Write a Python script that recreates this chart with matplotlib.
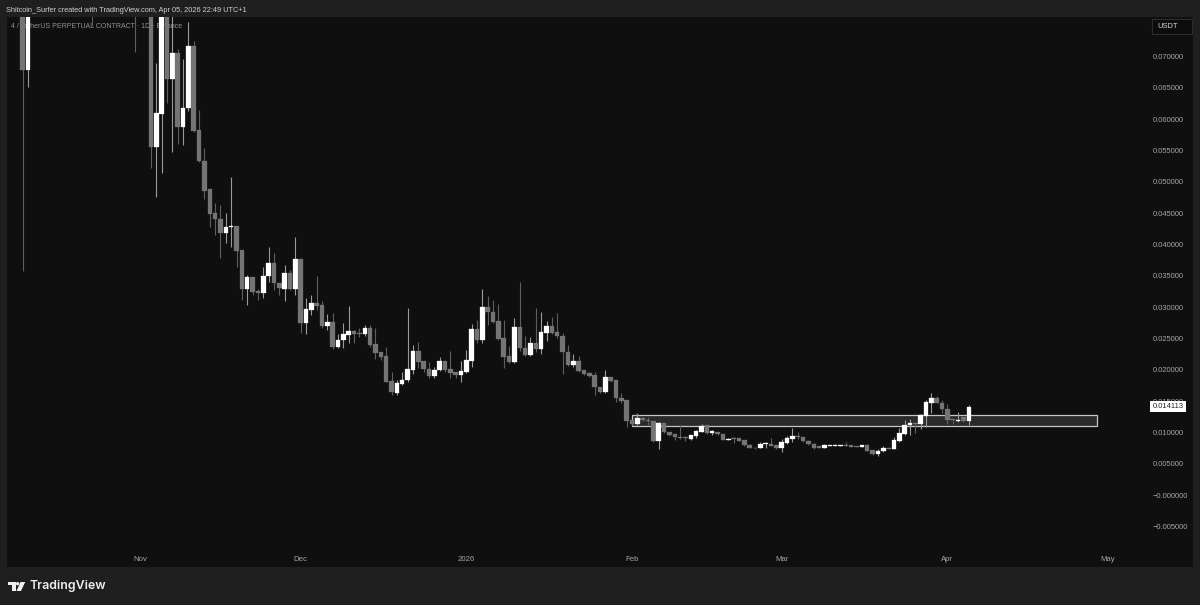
import matplotlib
matplotlib.use("Agg")
import matplotlib.pyplot as plt
import matplotlib.dates as mdates
from matplotlib.patches import Rectangle, Polygon, Circle
from matplotlib.transforms import IdentityTransform
import pandas as pd

# daily candles, 3 Nov 2025 to 5 Apr 2026
opens = [
    .085, .05549, .06081, .088, .06639, .07054, .05873, .06181, .07166, .05825,
    .05335, .04884, .04501, .04405, .04186, .04285, .04293, .03910, .03293, .03479,
    .03256, .03224, .03495, .03703, .03384, .03288, .03538, .03288, .03762, .02750,
    .02953, .03069, .03032, .02697, .02766, .02357, .02474, .02558, .02617, .02581,
    .02570, .02670, .02405, .02277, .02218, .01819, .01633, .01776, .01835, .01995,
    .02298, .02134, .02011, .01899, .01990, .02139, .02016, .01968, .01915, .01958,
    .02139, .02654, .02474, .03000, .02926, .02777, .02506, .02218, .02123, .02686,
    .02341, .02234, .02426, .02335, .02590, .02702, .02597, .02542, .02277, .02075,
    .02139, .01990, .01942, .01910, .01724, .01644, .01878, .01835, .01548, .01516,
    .01197, .01138, .01224, .01197, .01186, .00862, .01144, .01005, .00969, .00930,
    .00930, .00894, .00942, .01010, .01112, .00985, .01005, .00974, .00883, .00905,
    .00910, .00873, .00803, .00755, .00750, .00819, .00814, .00798, .00750, .00835,
    .00894, .00942, .00926, .00867, .00819, .00782, .00755, .00787, .00787, .00787,
    .00793, .00793, .00782, .00766, .00803, .00718, .00654, .00697, .00755, .00739,
    .00862, .00974, .01117, .01144, .01128, .01266, .01473, .01543, .01473, .01368,
    .01208, .01186, .01240, .01186,
]
closes = [
    .05549, .06092, .088, .06639, .07059, .05873, .06181, .07166, .05814, .05331,
    .04857, .04485, .04405, .04182, .04282, .04293, .03899, .03293, .03479, .03245,
    .03224, .03495, .03703, .03384, .03299, .03538, .03288, .03762, .02750, .02964,
    .03069, .03016, .02697, .02766, .02357, .02474, .02565, .02617, .02570, .02565,
    .02670, .02394, .02271, .02207, .01808, .01639, .01783, .01840, .02006, .02298,
    .02118, .02006, .01899, .01995, .02139, .01995, .01952, .01915, .01974, .02155,
    .02654, .02474, .03000, .02916, .02766, .02495, .02207, .02123, .02686, .02341,
    .02234, .02426, .02330, .02601, .02702, .02590, .02538, .02277, .02075, .02139,
    .01979, .01936, .01904, .01719, .01644, .01878, .01824, .01548, .01500, .01186,
    .01133, .01224, .01197, .01181, .00862, .01144, .01001, .00958, .00921, .00910,
    .00905, .00953, .01021, .01106, .00985, .01017, .00974, .00883, .00899, .00894,
    .00862, .00798, .00750, .00745, .00819, .00830, .00787, .00750, .00841, .00905,
    .00942, .00926, .00857, .00814, .00750, .00750, .00803, .00798, .00798, .00798,
    .00782, .00771, .00766, .00798, .00707, .00654, .00702, .00745, .00739, .00873,
    .00985, .01112, .01154, .01128, .01277, .01479, .01543, .01473, .01368, .01197,
    .01192, .01197, .01186, .014113,
]
highs = [
    .090, .06895, .092, .090, .078, .07118, .06959, .07554, .07251, .06145,
    .05538, .04884, .04660, .04628, .04501, .05080, .04293, .03910, .03511, .03479,
    .03290, .03639, .03958, .03862, .03384, .03671, .03591, .04113, .03780, .03144,
    .03192, .03495, .03101, .02889, .02905, .02570, .02745, .03016, .02633, .02665,
    .02713, .02713, .02665, .02277, .02367, .01968, .01835, .01968, .02980, .02394,
    .02437, .02134, .02127, .02048, .02198, .02139, .02303, .01968, .02143, .02314,
    .02729, .02793, .03283, .03176, .03112, .03048, .02800, .02378, .02830, .03404,
    .02538, .02526, .02980, .02925, .02782, .02836, .02900, .02580, .02394, .02250,
    .02218, .01990, .01960, .01963, .01724, .01995, .01878, .01835, .01623, .01516,
    .01197, .01304, .01240, .01250, .01186, .01170, .01144, .01005, .00969, .01117,
    .00940, .00960, .01037, .01128, .01120, .01037, .01010, .00980, .00910, .00930,
    .00915, .00880, .00810, .00760, .00846, .00851, .00905, .00805, .00889, .00942,
    .01074, .01001, .00930, .00875, .00825, .00790, .00810, .00805, .00808, .00805,
    .00841, .00800, .00790, .00805, .00810, .00725, .00734, .00782, .00760, .00930,
    .01074, .01197, .01208, .01160, .01290, .01516, .01633, .01580, .01516, .01452,
    .01220, .01330, .01250, .01436,
]
lows = [
    .05219, .04756, .05139, .06256, .05474, .05602, .05586, .06129, .05798, .05320,
    .04724, .04282, .04150, .03783, .04027, .03963, .03644, .03112, .03032, .03192,
    .03112, .03144, .03399, .03272, .03192, .03101, .03272, .03192, .02586, .02570,
    .02873, .02953, .02665, .02633, .02330, .02346, .02346, .02426, .02426, .02526,
    .02538, .02362, .02171, .02155, .01800, .01596, .01596, .01756, .01808, .01931,
    .02027, .01968, .01867, .01867, .01979, .01968, .01867, .01867, .01803, .01947,
    .02048, .02431, .02431, .02713, .02745, .02474, .02027, .02107, .02107, .02303,
    .02220, .02215, .02287, .02250, .02458, .02575, .02506, .01931, .02059, .02038,
    .01968, .01920, .01888, .01596, .01628, .01633, .01803, .01489, .01468, .01085,
    .01117, .01117, .01180, .01117, .00846, .00729, .00985, .00940, .00878, .00886,
    .00862, .00878, .00910, .01000, .00975, .00958, .00960, .00875, .00870, .00825,
    .00855, .00790, .00745, .00735, .00745, .00745, .00780, .00740, .00691, .00814,
    .00851, .00894, .00850, .00805, .00740, .00745, .00750, .00780, .00778, .00780,
    .00775, .00765, .00760, .00760, .00700, .00645, .00622, .00690, .00730, .00730,
    .00841, .00958, .00958, .00994, .01048, .01090, .01309, .01463, .01309, .01133,
    .01129, .01170, .01170, .01117,
]

# older candles that still reach down into the view
early_dates = ["2025-10-10", "2025-10-11", "2025-10-23", "2025-10-31"]
early_opens = [.090, .06783, .095, .090]
early_closes = [.06783, .090, .090, .085]
early_highs = [.100, .100, .100, .095]
early_lows = [.0358, .06512, .07485, .0707]

price_ticks = [-.005, 0, .005, .010, .015, .020, .025, .030, .035, .040,
               .045, .050, .055, .060, .065, .070]
price_labels = ["\u22120.005000", "\u22120.000000"] + ["%.6f" % p for p in price_ticks[2:]]
month_dates = ["2025-11-01", "2025-12-01", "2026-01-01", "2026-02-01",
               "2026-03-01", "2026-04-01", "2026-05-01"]
month_labels = ["Nov", "Dec", "2026", "Feb", "Mar", "Apr", "May"]

zone_start, zone_end = "2026-02-01", "2026-04-29"
zone_low, zone_high = .0110, .0128
last_price = .014113

plt.rcParams["font.family"] = ["Liberation Sans", "DejaVu Sans"]

W, H = 1200, 605
fig = plt.figure(figsize=(12, 6.05), dpi=100, facecolor="#1f1f1f")
ax = fig.add_axes([7 / W, (H - 567) / H, 1186 / W, 550 / H], facecolor="#0f0f0f")

dates = pd.date_range("2025-11-03", "2026-04-05")
xs = list(mdates.date2num(list(pd.to_datetime(early_dates)))) + list(mdates.date2num(dates))
o = early_opens + opens
c = early_closes + closes
hi = early_highs + highs
lo = early_lows + lows

up_color, down_color = "#ffffff", "#747474"
wick_up, wick_down = "#9a9a9a", "#5e5e5e"
for i in range(len(xs)):
    up = c[i] >= o[i]
    ax.vlines(xs[i], lo[i], hi[i], color=wick_up if up else wick_down, lw=0.8, zorder=3)
    ax.bar(xs[i], abs(c[i] - o[i]), bottom=min(o[i], c[i]), width=0.85,
           color=up_color if up else down_color,
           edgecolor=up_color if up else down_color, lw=0.2, zorder=4)

ax.add_patch(Rectangle((mdates.datestr2num(zone_start), zone_low),
                       mdates.datestr2num(zone_end) - mdates.datestr2num(zone_start),
                       zone_high - zone_low, facecolor="#2a2a2a", edgecolor="#c4c4c4",
                       lw=0.9, zorder=2))

ax.set_xlim(mdates.datestr2num("2025-11-01") - 24.94, mdates.datestr2num("2025-11-01") + 196.95)
ax.set_ylim(-.01149, .07629)

ax.set_yticks(price_ticks)
ax.set_yticklabels(price_labels)
ax.yaxis.tick_right()
ax.tick_params(axis="y", length=0, pad=-29, labelsize=5.4, labelcolor="#a6a6a6")
ax.set_xticks(mdates.datestr2num(month_dates))
ax.set_xticklabels(month_labels)
ax.tick_params(axis="x", length=0, pad=-7.8, labelsize=5.6, labelcolor="#a6a6a6")
for s in ax.spines.values():
    s.set_visible(False)

# last price tag
ax.text(0.979, last_price, "%.6f" % last_price, transform=ax.get_yaxis_transform(),
        ha="center", va="center", fontsize=5.4, color="#222222", zorder=6,
        bbox=dict(boxstyle="square,pad=0.3", facecolor="#ffffff", edgecolor="none"))

# USDT box
fig.add_artist(Rectangle((1152 / W, 1 - 34 / H), 40 / W, 15 / H, transform=fig.transFigure,
                         facecolor="#0c0c0c", edgecolor="#2c2c2c", lw=0.8))
fig.text(1157 / W, 1 - 26.5 / H, "USDT", fontsize=5.4, color="#d8d8d8", va="center")

# header, symbol line and footer
fig.text(6 / W, 1 - 10 / H, "Shitcoin_Surfer created with TradingView.com, Apr 05, 2026 22:49 UTC+1",
         fontsize=5.3, color="#cfcfcf", va="center")
ax.text(11 / W, 1 - 26 / H, "4 / TetherUS PERPETUAL CONTRACT \u00b7 1D \u00b7 Binance",
        transform=fig.transFigure, fontsize=5.0, color="#929292", va="center", zorder=1)


def px(x, y):
    return (x / W, 1 - y / H)


logo_color = "#f0f0f0"
fig.add_artist(Polygon([px(7.5, 582), px(15.5, 582), px(15.5, 591), px(11.5, 591),
                        px(11.5, 585.3), px(7.5, 585.3)], transform=fig.transFigure,
                       facecolor=logo_color, edgecolor="none"))
fig.add_artist(Polygon([px(20.5, 582), px(25.2, 582), px(21, 591), px(16.5, 591)],
                       transform=fig.transFigure, facecolor=logo_color, edgecolor="none"))
fig.add_artist(Circle((17.6, H - 583.7), 1.7, transform=IdentityTransform(),
                      facecolor=logo_color, edgecolor="none"))
fig.text(30 / W, 1 - 586 / H, "TradingView", fontsize=8.9, color="#eeeeee", va="center",
         family=["Inter", "DejaVu Sans"], weight="semibold")

fig.savefig("out.png", dpi=100, facecolor=fig.get_facecolor())
